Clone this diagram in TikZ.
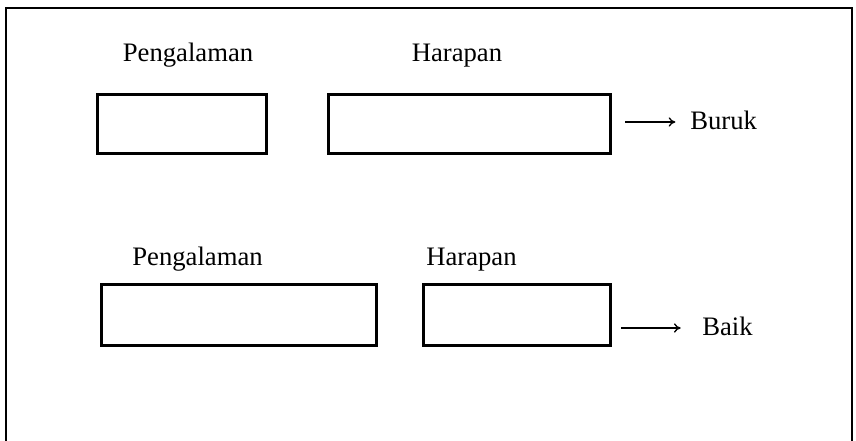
\documentclass[tikz,border=0pt]{standalone}
\usepackage{fontspec}
\setmainfont{Liberation Serif}
\usetikzlibrary{arrows.meta}
\begin{document}
\begin{tikzpicture}[x=0.75pt,y=-0.75pt,
  box/.style={draw, line width=2.6pt, inner sep=0pt, anchor=center},
  lbl/.style={inner sep=0pt, anchor=base, font=\fontsize{20pt}{24pt}\selectfont},
  res/.style={inner sep=0pt, anchor=base west, font=\fontsize{20pt}{24pt}\selectfont},
  arr/.style={line width=1pt, -{To[length=5pt,width=7pt]}}]
  \useasboundingbox (0,0) rectangle (856,441);
  % open frame around the figure
  \draw[line width=1.3pt] (6,441) -- (6,8) -- (852,8) -- (852,441);

  % first row
  \node[box, minimum width={169*0.75pt}, minimum height={59*0.75pt}] (p1) at (182,124) {};
  \node[box, minimum width={282*0.75pt}, minimum height={59*0.75pt}] (h1) at (469.5,124) {};
  \node[lbl] (pl1) at (188,62) {Pengalaman};
  \node[lbl] (hl1) at (457,62) {Harapan};
  \node[res] (buruk) at (690,130) {Buruk};
  \coordinate (a1) at (625,122);
  \draw[arr] (a1) -- (a1 -| buruk.west) [shorten >=11pt];

  % second row
  \node[box, minimum width={275*0.75pt}, minimum height={61*0.75pt}] (p2) at (239,315) {};
  \node[box, minimum width={187*0.75pt}, minimum height={61*0.75pt}] (h2) at (517,315) {};
  \node[lbl] (pl2) at (197.5,266) {Pengalaman};
  \node[lbl] (hl2) at (471.5,266) {Harapan};
  \node[res] (baik) at (702,335) {Baik};
  \coordinate (a2) at (621,328);
  \draw[arr] (a2) -- (a2 -| baik.west) [shorten >=16pt];
\end{tikzpicture}
\end{document}
